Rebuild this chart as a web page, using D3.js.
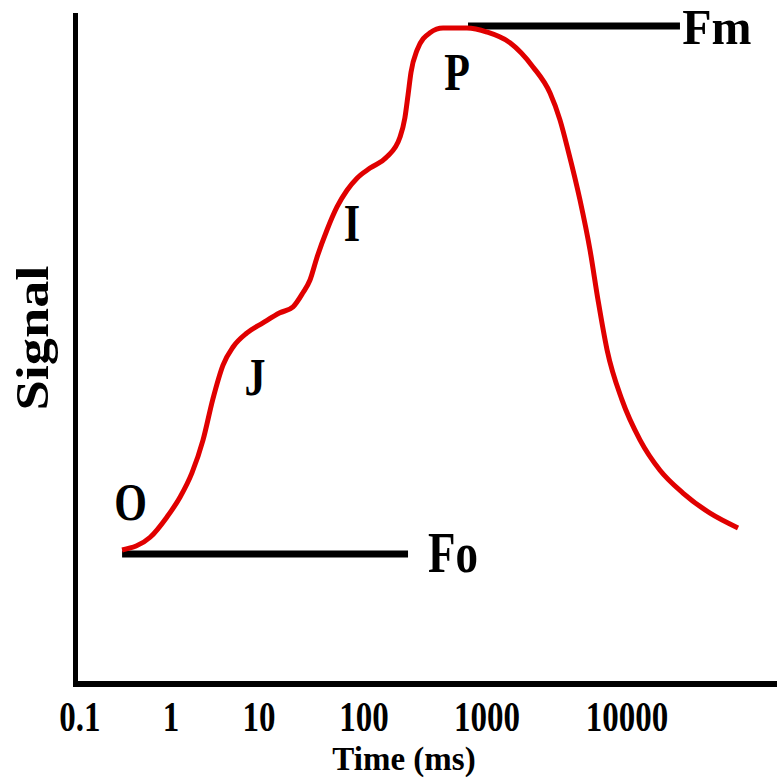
<!DOCTYPE html>
<html>
<head>
<meta charset="utf-8">
<script src="https://cdn.jsdelivr.net/npm/d3@7"></script>
<style>
  html, body { margin: 0; padding: 0; background: #fff; }
  svg { display: block; }
  text { font-family: "Liberation Serif", "Times New Roman", serif; font-weight: bold; fill: #000; }
</style>
</head>
<body>
<svg id="chart" width="777" height="778"></svg>
<script>
// ---- data (time in ms, signal in relative units) ----
const tickValues = [0.1, 1, 10, 100, 1000, 10000];
const tickLabels = ["0.1", "1", "10", "100", "1000", "10000"];

const curveTime = [0.29, 0.59, 0.90, 1.27, 1.73, 2.31, 3.0, 3.9, 5.07, 7.31, 10.9, 15.8, 21.1, 26.2, 30.6,
  35.7, 44.5, 55.3, 68.9, 85.8, 112, 154, 196, 215, 228, 241, 270, 344, 439, 687, 1000, 1460, 2130, 2820,
  3320, 3790, 4620, 5440, 6210, 7200, 9210, 12400, 17200, 25100, 39200, 62100];
const curveSignal = [20.0, 21.9, 24.9, 27.9, 31.5, 36.4, 42.6, 47.6, 50.3, 52.4, 53.9, 55.4, 56.3, 58.4, 60.3,
  63.7, 67.8, 71.2, 73.7, 75.5, 77.0, 78.7, 81.6, 84.5, 87.9, 91.3, 94.6, 97.2, 97.9, 97.9, 97.3, 95.7, 92.1, 88.2,
  84.2, 79.7, 72.2, 64.8, 57.3, 49.9, 42.4, 36.4, 31.9, 28.5, 25.5, 23.3];

const levelNames = ["Fo", "Fm"];
const levelValues = [19.4, 98.2];
const levelStart = [0.29, 701];
const levelEnd = [228, 23900];
const levelLabelTime = [331, 24800];

const phaseNames = ["O", "J", "I", "P"];
const phaseTime = [0.36, 9.0, 76.9, 570];
const phaseSignal = [24.5, 43.1, 66.1, 88.7];

// ---- scales ----
const svg = d3.select("#chart");
const x = d3.scaleLog().domain(tickValues).range([80, 171, 259, 364, 487, 627]);
const y = d3.scaleLinear().domain([0, 100]).range([684, 14]);

// axes
svg.append("line").attr("x1", 75.5).attr("x2", 75.5).attr("y1", 13).attr("y2", 687)
  .attr("stroke", "#000").attr("stroke-width", 5);
svg.append("line").attr("x1", 73).attr("x2", 777).attr("y1", 684).attr("y2", 684)
  .attr("stroke", "#000").attr("stroke-width", 6);

// tick labels
svg.selectAll("text.tick").data(tickValues).join("text")
  .attr("class", "tick")
  .attr("text-anchor", "middle")
  .attr("font-size", 33)
  .attr("transform", d => `translate(${x(d)},731) scale(1,1.3)`)
  .text((d, i) => tickLabels[i]);

// axis titles
svg.append("text").attr("text-anchor", "middle").attr("font-size", 33)
  .attr("transform", "translate(404,770)").text("Time (ms)");
svg.append("text").attr("text-anchor", "middle").attr("font-size", 46)
  .attr("transform", "translate(48,338) rotate(-90) scale(1.18,1)").text("Signal");

// Fo / Fm levels
svg.selectAll("line.level").data(levelValues).join("line")
  .attr("class", "level")
  .attr("x1", (d, i) => x(levelStart[i])).attr("x2", (d, i) => x(levelEnd[i]))
  .attr("y1", d => y(d)).attr("y2", d => y(d))
  .attr("stroke", "#000").attr("stroke-width", 7);

svg.selectAll("text.level").data(levelValues).join("text")
  .attr("class", "level")
  .attr("font-size", (d, i) => i === 0 ? 45 : 48)
  .attr("transform", (d, i) => i === 0
    ? `translate(${x(levelLabelTime[i])},${y(d) + 18}) scale(1,1.25)`
    : `translate(${x(levelLabelTime[i])},${y(d) + 18}) scale(1,1.04)`)
  .text((d, i) => levelNames[i]);

// curve
const pts = curveTime.map((t, i) => [t, curveSignal[i]]);
const line = d3.line().x(d => x(d[0])).y(d => y(d[1])).curve(d3.curveMonotoneX);
svg.append("path").attr("d", line(pts)).attr("fill", "none")
  .attr("stroke", "#e00000").attr("stroke-width", 5).attr("stroke-linejoin", "round");

// phase labels
svg.selectAll("text.phase").data(phaseTime).join("text")
  .attr("class", "phase")
  .attr("text-anchor", "middle")
  .attr("font-size", 42)
  .attr("transform", (d, i) => `translate(${x(d)},${y(phaseSignal[i])}) scale(1,1.25)`)
  .text((d, i) => phaseNames[i]);
</script>
</body>
</html>
